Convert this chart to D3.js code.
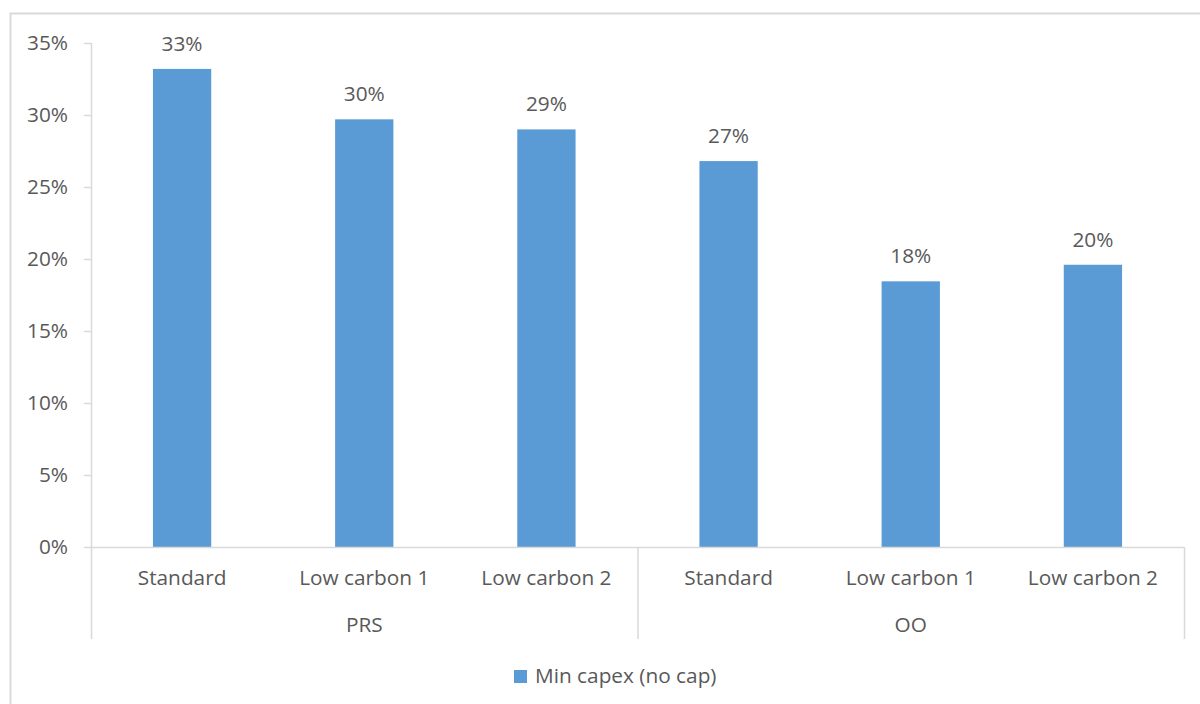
<!DOCTYPE html>
<html>
<head>
<meta charset="utf-8">
<script src="https://cdn.jsdelivr.net/npm/d3@7/dist/d3.min.js"></script>
<style>
  html, body { margin: 0; padding: 0; background: #fff; }
  svg text { font-family: "Open Sans", "Liberation Sans", sans-serif; fill: #595959; }
</style>
</head>
<body>
<svg id="chart" width="1200" height="704"></svg>
<script>
// Scenario groups and the scenarios within each
const groups = ["PRS", "OO"];
const scenarios = ["Standard", "Low carbon 1", "Low carbon 2"];
// Min capex (no cap) share for each group/scenario, in group order
const values = [0.332, 0.297, 0.290, 0.268, 0.1845, 0.196];
const seriesName = "Min capex (no cap)";
const yTicks = [0, 0.05, 0.10, 0.15, 0.20, 0.25, 0.30, 0.35];

const rows = [];
groups.forEach((g, gi) => scenarios.forEach((s, si) => {
  rows.push({ group: g, scenario: s, key: g + "|" + s, value: values[gi * scenarios.length + si] });
}));

const svg = d3.select("#chart");
const plotLeft = 91, plotRight = 1184, plotTop = 43, plotBottom = 547;
const grey = "#d9d9d9", barColor = "#5b9bd5";
const fontSize = 20.8;

// Chart area frame
svg.append("path")
  .attr("d", "M10.5,704 V13.5 H1200")
  .attr("fill", "none").attr("stroke", grey).attr("stroke-width", 2);

const x = d3.scaleBand().domain(rows.map(d => d.key)).range([plotLeft, plotRight]).paddingInner(0.68).paddingOuter(0.34);
const y = d3.scaleLinear().domain([0, 0.35]).range([plotBottom, plotTop]);

// Y axis
const yAxis = svg.append("g").attr("transform", `translate(${plotLeft},0)`)
  .call(d3.axisLeft(y).tickValues(yTicks).tickFormat(d3.format(".0%")).tickSize(7).tickPadding(16));
yAxis.select(".domain").attr("stroke", grey).attr("stroke-width", 1.5).attr("d", `M0.5,${plotTop} V${plotBottom}`);
yAxis.selectAll(".tick line").attr("stroke", grey).attr("stroke-width", 1.5);
yAxis.selectAll(".tick text").attr("font-size", fontSize).attr("fill", "#595959").style("font-family", "Open Sans");

// Bars
svg.append("g").selectAll("rect").data(rows).join("rect")
  .attr("x", d => x(d.key)).attr("width", x.bandwidth())
  .attr("y", d => y(d.value)).attr("height", d => y(0) - y(d.value))
  .attr("fill", barColor);

// Value labels
svg.append("g").selectAll("text").data(rows).join("text")
  .attr("x", d => x(d.key) + x.bandwidth() / 2)
  .attr("y", d => y(d.value) - 18)
  .attr("text-anchor", "middle").attr("font-size", fontSize)
  .text(d => d3.format(".0%")(d.value));

// Category axis baseline
svg.append("line").attr("x1", plotLeft).attr("x2", plotRight).attr("y1", plotBottom + 0.5).attr("y2", plotBottom + 0.5)
  .attr("stroke", grey).attr("stroke-width", 1.5);

// Scenario labels
svg.append("g").selectAll("text").data(rows).join("text")
  .attr("x", d => x(d.key) + x.bandwidth() / 2).attr("y", 585)
  .attr("text-anchor", "middle").attr("font-size", fontSize)
  .text(d => d.scenario);

// Group separators and group labels
const step = x.step();
const groupWidth = step * scenarios.length;
const edges = d3.range(groups.length + 1).map(i => plotLeft + i * groupWidth);
svg.append("g").selectAll("line").data(edges).join("line")
  .attr("x1", d => d + 0.5).attr("x2", d => d + 0.5).attr("y1", plotBottom).attr("y2", 639)
  .attr("stroke", grey).attr("stroke-width", 1.5);
svg.append("g").selectAll("text").data(groups).join("text")
  .attr("x", (d, i) => plotLeft + groupWidth * (i + 0.5)).attr("y", 632)
  .attr("text-anchor", "middle").attr("font-size", fontSize)
  .text(d => d);

// Legend
const legend = svg.append("g").attr("transform", "translate(514,670)");
legend.append("rect").attr("width", 13).attr("height", 13).attr("fill", barColor);
legend.append("text").attr("x", 21).attr("y", 12.5).attr("font-size", fontSize).text(seriesName);
</script>
</body>
</html>
